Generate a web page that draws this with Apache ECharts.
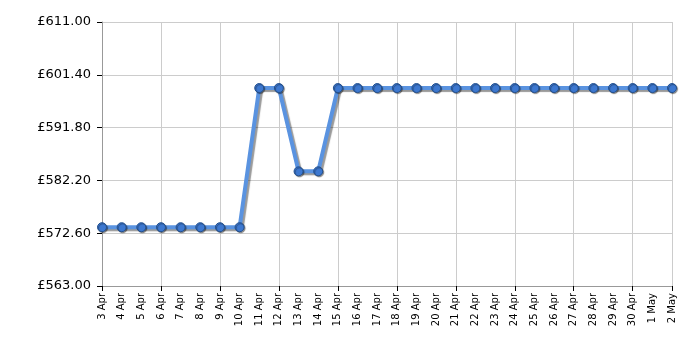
<!DOCTYPE html>
<html>
<head>
<meta charset="utf-8">
<script src="https://cdn.jsdelivr.net/npm/echarts@6/dist/echarts.min.js"></script>
<style>
  html, body { margin: 0; padding: 0; background: #fff; }
  #chart { width: 700px; height: 350px; }
</style>
</head>
<body>
<div id="chart"></div>
<script>
const dates = [
  '3 Apr', '4 Apr', '5 Apr', '6 Apr', '7 Apr', '8 Apr', '9 Apr', '10 Apr',
  '11 Apr', '12 Apr', '13 Apr', '14 Apr', '15 Apr', '16 Apr', '17 Apr', '18 Apr',
  '19 Apr', '20 Apr', '21 Apr', '22 Apr', '23 Apr', '24 Apr', '25 Apr', '26 Apr',
  '27 Apr', '28 Apr', '29 Apr', '30 Apr', '1 May', '2 May',
];
const prices = [
  573.69, 573.69, 573.69, 573.69, 573.69, 573.69, 573.69, 573.69,
  598.99, 598.99, 583.85, 583.85, 598.99, 598.99, 598.99, 598.99,
  598.99, 598.99, 598.99, 598.99, 598.99, 598.99, 598.99, 598.99,
  598.99, 598.99, 598.99, 598.99, 598.99, 598.99,
];
const yMin = 563;
const yMax = 611;
const yStep = 9.6;

const chart = echarts.init(document.getElementById('chart'));
chart.setOption({
  animation: false,
  grid: { left: 102, right: 28, top: 22, bottom: 64 },
  xAxis: {
    type: 'category',
    data: dates,
    boundaryGap: false,
    axisLine: { lineStyle: { color: '#999', width: 1 } },
    axisTick: { interval: 2, length: 5, lineStyle: { color: '#000' } },
    splitLine: { show: true, interval: 2, lineStyle: { color: '#ccc' } },
    axisLabel: {
      interval: 0,
      rotate: 90,
      fontFamily: 'DejaVu Sans',
      fontSize: 10,
      color: '#000',
      margin: 7,
    },
  },
  yAxis: {
    type: 'value',
    min: yMin,
    max: yMax,
    interval: yStep,
    axisLine: { show: true, lineStyle: { color: '#999', width: 1 } },
    axisTick: { show: true, length: 5, lineStyle: { color: '#000' } },
    splitLine: { lineStyle: { color: '#ccc' } },
    axisLabel: {
      fontFamily: 'DejaVu Sans',
      fontSize: 13,
      color: '#000',
      margin: 11,
      formatter: (v) => '£' + v.toFixed(2),
    },
  },
  series: [
    {
      type: 'line',
      data: prices,
      symbol: 'circle',
      symbolSize: 9,
      lineStyle: {
        width: 4,
        color: '#5a93e0',
        shadowColor: 'rgba(0,0,0,0.4)',
        shadowBlur: 1,
        shadowOffsetX: 2,
        shadowOffsetY: 2,
      },
      itemStyle: {
        color: '#3d78d0',
        borderColor: '#22508f',
        borderWidth: 1,
        shadowColor: 'rgba(0,0,0,0.4)',
        shadowBlur: 1,
        shadowOffsetX: 1,
        shadowOffsetY: 1,
      },
    },
  ],
});
</script>
</body>
</html>
